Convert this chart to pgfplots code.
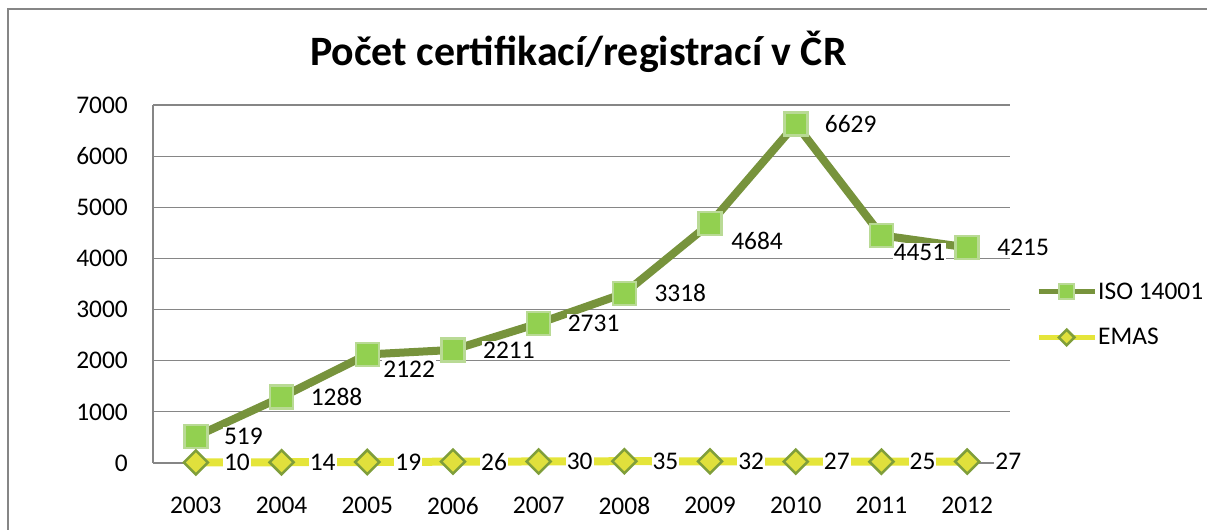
\documentclass[border=0pt]{standalone}
\usepackage{pgfplots}
\pgfplotsset{compat=1.18}
\usepackage{pgfplotstable}
\usepackage{fontspec}
\setmainfont{Carlito}
\definecolor{isoline}{HTML}{77933C}
\definecolor{isofill}{HTML}{92D050}
\definecolor{isoedge}{HTML}{B9DA95}
\definecolor{emasline}{HTML}{E5E53A}
\definecolor{emasfill}{HTML}{E0E03C}
\definecolor{emasedge}{HTML}{7F9E3A}
\definecolor{gridc}{HTML}{868686}

\pgfplotstableread{
x y dx dy
0 519 27 0
1 1288 28 0
2 2122 15 -15
3 2211 29 0
4 2731 28 0
5 3318 29 0
6 4684 20 -17
7 6629 28 0
8 4451 11 -17
9 4215 29 0
}\isodata
\pgfplotstableread{
x y
0 10
1 14
2 19
3 26
4 30
5 35
6 32
7 27
8 25
9 27
}\emasdata

\begin{document}
\begin{tikzpicture}[x=1bp,y=1bp]
\useasboundingbox (0,0) rectangle (1207,530);
\draw[gridc, line width=1.5bp] (8,-10) -- (8,521) -- (1220,521);
\node[font=\fontsize{42}{44}\selectfont\bfseries, anchor=base] at (578.5,464) {Počet certifikací/registrací v ČR};
\begin{axis}[
  at={(153bp,67bp)}, anchor=south west,
  scale only axis, width=857bp, height=358bp,
  xmin=-0.5, xmax=9.5, ymin=0, ymax=7000,
  xtick={0,1,2,3,4,5,6,7,8,9},
  xticklabels={2003,2004,2005,2006,2007,2008,2009,2010,2011,2012},
  ytick={0,1000,2000,3000,4000,5000,6000,7000},
  ymajorgrids, grid style={gridc, line width=1.2bp},
  axis x line*=bottom, axis y line*=left,
  axis line style={gridc, line width=1.2bp, -},
  tick style={draw=none},
  ticklabel style={font=\fontsize{25.5}{28}\selectfont, inner sep=0pt},
  /pgf/number format/assume math mode=true,
  /pgf/number format/1000 sep={},
  scaled y ticks=false,
  yticklabel shift=25bp, xticklabel shift=34bp,
  clip=false,
  legend style={draw=none, fill=none, at={(axis description cs:1.0303,0.4148)}, anchor=west,
    font=\fontsize{25.5}{28}\selectfont, row sep=26bp, inner sep=0pt,
    nodes={inner sep=1bp}, /tikz/every even column/.append style={column sep=2bp}},
  legend cell align=left,
  legend image code/.code={\draw[#1, mark repeat=2, mark phase=2] plot coordinates {(0bp,0bp)(28bp,0bp)(56bp,0bp)};},
]
% ISO labels (behind the line)
\addplot[forget plot, draw=none, mark=none, nodes near coords, point meta=explicit symbolic,
  visualization depends on={\thisrow{dx} \as \dx},
  visualization depends on={\thisrow{dy} \as \dy},
  every node near coord/.append style={anchor=west, xshift=\dx bp, yshift=\dy bp, fill=white,
    inner sep=1bp, text=black, font=\fontsize{25.5}{28}\selectfont}]
  table[x=x, y=y, meta=y] {\isodata};
\addplot[isoline, line width=8bp, line join=round, mark=square*, mark size=11.5bp,
  mark options={fill=isofill, draw=isoedge, line width=2.5bp, line join=miter},
  legend image post style={mark size=7.5bp, line width=5bp}]
  table[x=x, y=y] {\isodata};
\addlegendentry{ISO 14001}
\addplot[emasline, line width=8bp, line join=round, mark=square*, mark size=8.5bp,
  mark options={rotate=45, fill=emasfill, draw=emasedge, line width=2.5bp, line join=miter},
  legend image post style={mark size=5.5bp, line width=5bp}]
  table[x=x, y=y] {\emasdata};
\addlegendentry{EMAS}
% EMAS labels
\addplot[forget plot, draw=none, mark=none, nodes near coords, point meta=explicit symbolic,
  every node near coord/.append style={anchor=west, xshift=27bp, fill=white,
    inner sep=1bp, text=black, font=\fontsize{25.5}{28}\selectfont}]
  table[x=x, y=y, meta=y] {\emasdata};
\end{axis}
\end{tikzpicture}
\end{document}
